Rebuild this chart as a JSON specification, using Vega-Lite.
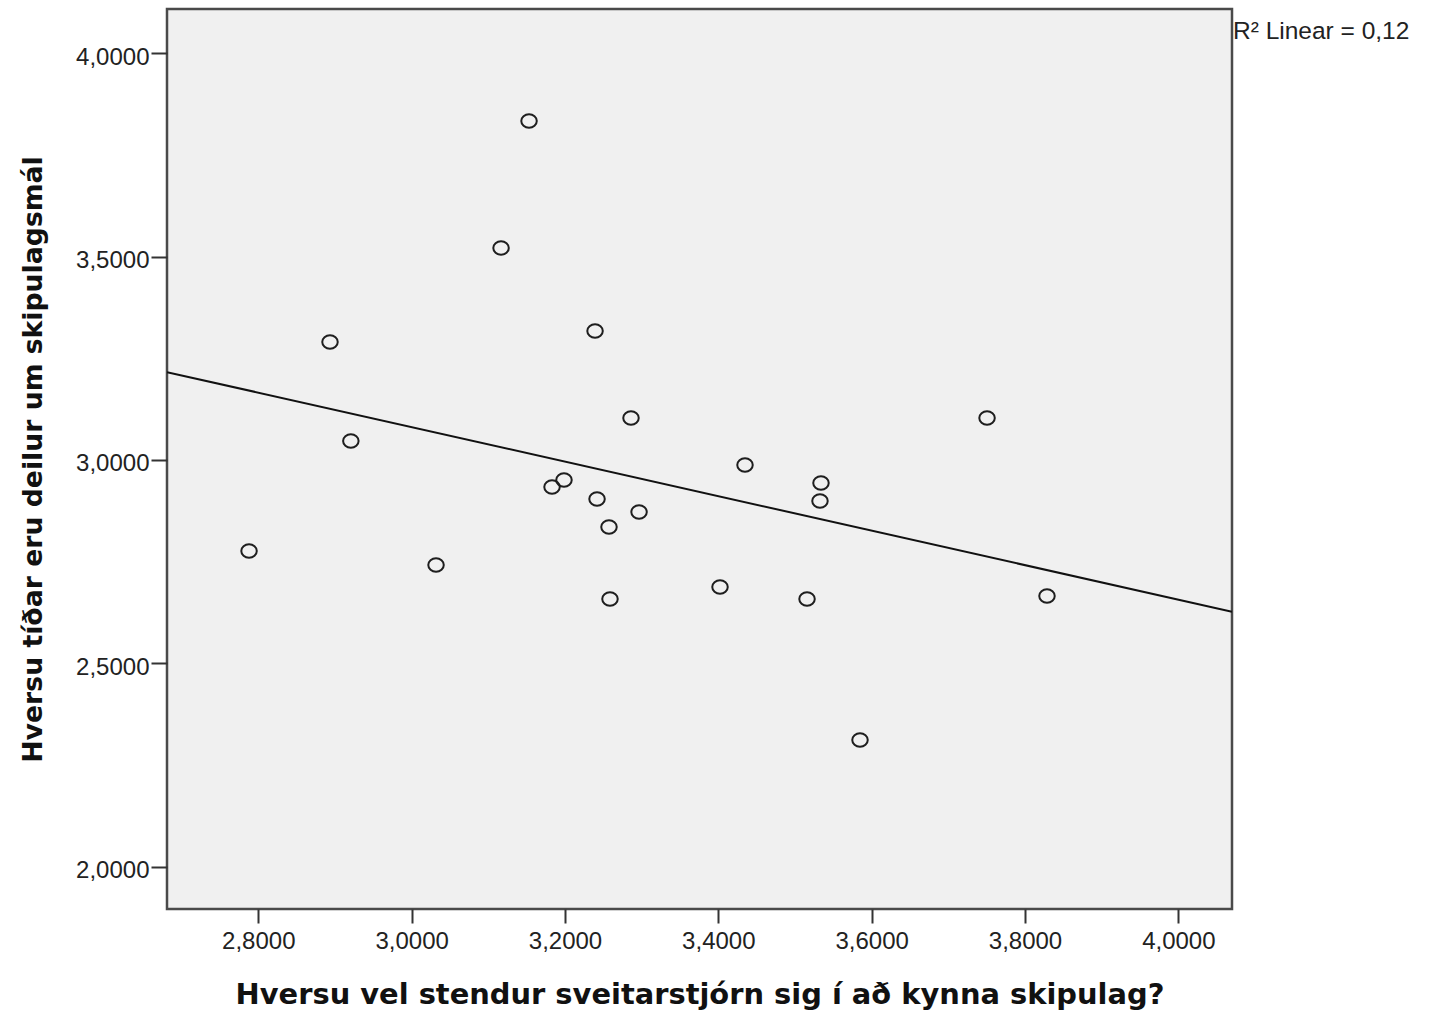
{
  "$schema": "https://vega.github.io/schema/vega-lite/v6.json",
  "width": 1065,
  "height": 900,
  "autosize": "none",
  "padding": {"left": 167, "top": 9, "right": 205, "bottom": 104},
  "background": "white",
  "config": {
    "view": {"fill": "#f0f0f0", "stroke": "#4a4a4a", "strokeWidth": 2.5},
    "axis": {
      "domain": false,
      "grid": false,
      "ticks": true,
      "tickColor": "#333333",
      "tickWidth": 2,
      "labelFont": "Liberation Sans",
      "labelFontSize": 24,
      "labelColor": "#222222",
      "titleFont": "DejaVu Sans",
      "titleFontWeight": "bold",
      "titleColor": "#111111"
    }
  },
  "datasets": {
    "punktar": [
      {"kynning": 2.7879, "deilur": 2.7762},
      {"kynning": 2.8935, "deilur": 3.2901},
      {"kynning": 2.9207, "deilur": 3.0467},
      {"kynning": 3.0318, "deilur": 2.7418},
      {"kynning": 3.1166, "deilur": 3.5213},
      {"kynning": 3.1531, "deilur": 3.8335},
      {"kynning": 3.1831, "deilur": 2.9336},
      {"kynning": 3.1987, "deilur": 2.9508},
      {"kynning": 3.2392, "deilur": 3.3172},
      {"kynning": 3.2418, "deilur": 2.9041},
      {"kynning": 3.2574, "deilur": 2.8353},
      {"kynning": 3.2587, "deilur": 2.6582},
      {"kynning": 3.2861, "deilur": 3.1033},
      {"kynning": 3.2966, "deilur": 2.8721},
      {"kynning": 3.4022, "deilur": 2.6877},
      {"kynning": 3.4348, "deilur": 2.9877},
      {"kynning": 3.5157, "deilur": 2.6582},
      {"kynning": 3.5326, "deilur": 2.8992},
      {"kynning": 3.5339, "deilur": 2.9434},
      {"kynning": 3.5848, "deilur": 2.3115},
      {"kynning": 3.7505, "deilur": 3.1033},
      {"kynning": 3.8287, "deilur": 2.6656}
    ],
    "merki": [
      {"texti": "R² Linear = 0,12"}
    ]
  },
  "layer": [
    {
      "data": {"name": "punktar"},
      "transform": [{"regression": "deilur", "on": "kynning", "extent": [2.6809, 4.07]}],
      "mark": {"type": "line", "color": "#111111", "strokeWidth": 2, "clip": true},
      "encoding": {
        "x": {
          "field": "kynning",
          "type": "quantitative",
          "scale": {"domain": [2.6809, 4.07], "nice": false, "zero": false},
          "axis": {
            "values": [2.8, 3.0, 3.2, 3.4, 3.6, 3.8, 4.0],
            "labelExpr": "replace(format(datum.value, '.4f'), '.', ',')",
            "tickSize": 14,
            "labelPadding": 6,
            "title": "Hversu vel stendur sveitarstjórn sig í að kynna skipulag?",
            "titleFontSize": 28.9,
            "titlePadding": 27
          }
        },
        "y": {
          "field": "deilur",
          "type": "quantitative",
          "scale": {"domain": [1.8959, 4.1089], "nice": false, "zero": false},
          "axis": {
            "values": [2.0, 2.5, 3.0, 3.5, 4.0],
            "labelExpr": "replace(format(datum.value, '.4f'), '.', ',')",
            "tickSize": 16,
            "labelPadding": 2,
            "labelOffset": 4,
            "title": "Hversu tíðar eru deilur um skipulagsmál",
            "titleFontSize": 26.7,
            "titlePadding": 28
          }
        }
      }
    },
    {
      "data": {"name": "punktar"},
      "mark": {
        "type": "point",
        "shape": "M -1 0 A 1 0.87 0 1 0 1 0 A 1 0.87 0 1 0 -1 0 Z",
        "filled": false,
        "stroke": "#1e1e1e",
        "strokeWidth": 2,
        "size": 240,
        "opacity": 1
      },
      "encoding": {
        "x": {"field": "kynning", "type": "quantitative"},
        "y": {"field": "deilur", "type": "quantitative"}
      }
    },
    {
      "data": {"name": "merki"},
      "mark": {
        "type": "text",
        "align": "left",
        "baseline": "alphabetic",
        "font": "Liberation Sans",
        "fontSize": 24.5,
        "color": "#222222",
        "dx": 1
      },
      "encoding": {
        "x": {"datum": 4.07, "type": "quantitative"},
        "y": {"datum": 4.035, "type": "quantitative"},
        "text": {"field": "texti"}
      }
    }
  ]
}
